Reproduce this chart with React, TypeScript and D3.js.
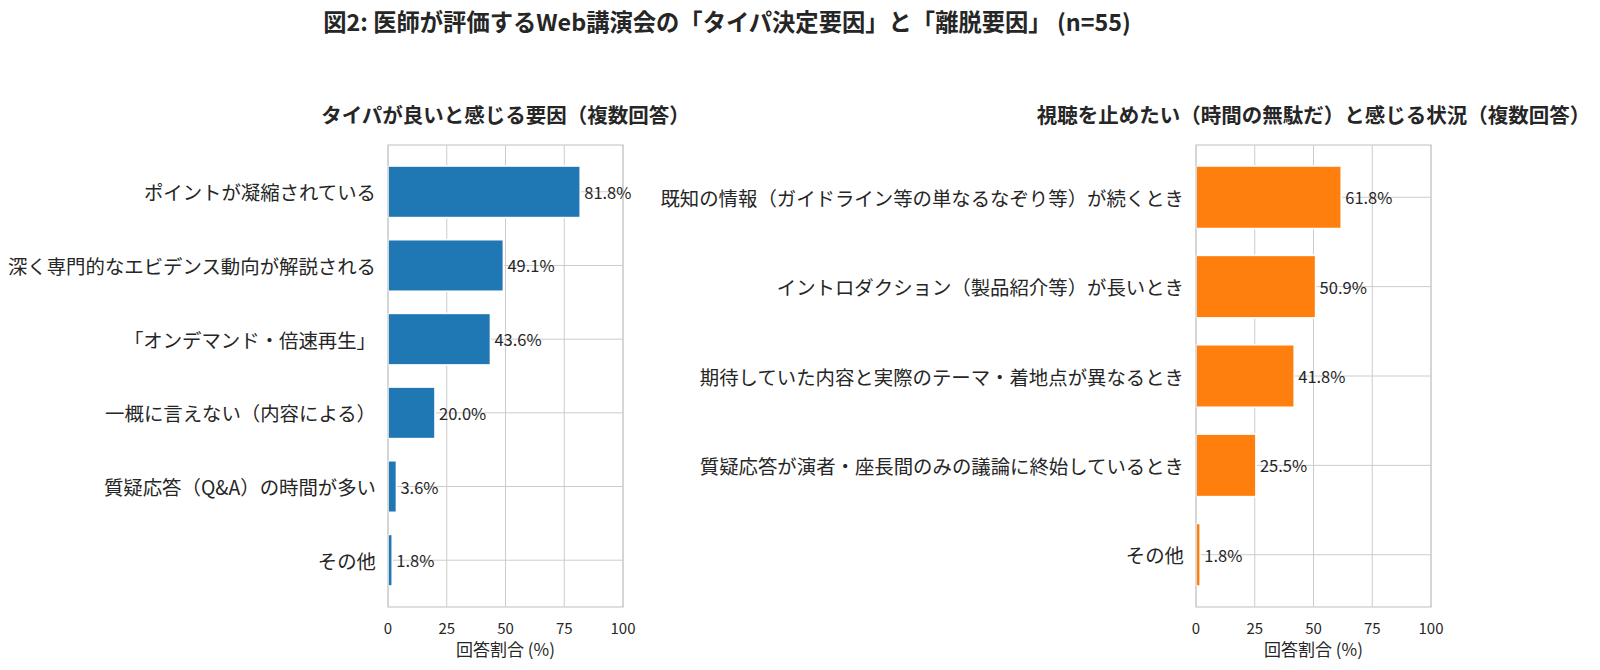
import * as d3 from 'd3';

const leftCategories = [
  'ポイントが凝縮されている',
  '深く専門的なエビデンス動向が解説される',
  '「オンデマンド・倍速再生」',
  '一概に言えない（内容による）',
  '質疑応答（Q&A）の時間が多い',
  'その他',
];
const leftValues = [81.8, 49.1, 43.6, 20.0, 3.6, 1.8];

const rightCategories = [
  '既知の情報（ガイドライン等の単なるなぞり等）が続くとき',
  'イントロダクション（製品紹介等）が長いとき',
  '期待していた内容と実際のテーマ・着地点が異なるとき',
  '質疑応答が演者・座長間のみの議論に終始しているとき',
  'その他',
];
const rightValues = [61.8, 50.9, 41.8, 25.5, 1.8];

const xTicks = [0, 25, 50, 75, 100];

const FONT = '"Noto Sans CJK JP", "Noto Sans", sans-serif';
const GRID = '#cccccc';
const TEXT = '#262626';

interface PanelProps {
  title: string;
  categories: string[];
  values: number[];
  color: string;
  left: number;
  right: number;
}

const TOP = 145;
const BOTTOM = 607;

const Panel = ({ title, categories, values, color, left, right }: PanelProps) => {
  const n = categories.length;
  const barH = 0.7;
  // matplotlib-like 5% margins around the bar extent
  const m = 0.05 * (n - 1 + barH);
  const y = d3.scaleLinear().domain([-barH / 2 - m, n - 1 + barH / 2 + m]).range([TOP, BOTTOM]);
  const x = d3.scaleLinear().domain([0, 100]).range([left, right]);

  return (
    <g>
      <text
        x={(left + right) / 2}
        y={114}
        textAnchor="middle"
        dominantBaseline="central"
        fontSize={20.5}
        fontWeight="bold"
        fill={TEXT}
      >
        {title}
      </text>

      {/* grid */}
      {xTicks.map(t => (
        <line key={'gx' + t} x1={x(t)} x2={x(t)} y1={TOP} y2={BOTTOM} stroke={GRID} strokeWidth={1} />
      ))}
      {categories.map((c, i) => (
        <line key={'gy' + i} x1={left} x2={right} y1={y(i)} y2={y(i)} stroke={GRID} strokeWidth={1} />
      ))}

      {/* bars */}
      {values.map((v, i) => (
        <rect
          key={'b' + i}
          x={x(0)}
          y={y(i - barH / 2)}
          width={x(v) - x(0)}
          height={y(i + barH / 2) - y(i - barH / 2)}
          fill={color}
          stroke="white"
          strokeWidth={1.6}
        />
      ))}

      {/* spines */}
      <rect x={left} y={TOP} width={right - left} height={BOTTOM - TOP} fill="none" stroke={GRID} strokeWidth={1.25} />

      {/* value labels */}
      {values.map((v, i) => (
        <text
          key={'v' + i}
          x={x(v) + 4}
          y={y(i)}
          dominantBaseline="central"
          fontSize={16.5}
          fill={TEXT}
        >
          {v.toFixed(1)}%
        </text>
      ))}

      {/* y tick labels */}
      {categories.map((c, i) => (
        <text
          key={'c' + i}
          x={left - 12}
          y={y(i)}
          textAnchor="end"
          dominantBaseline="central"
          fontSize={19.4}
          fill={TEXT}
        >
          {c}
        </text>
      ))}

      {/* x tick labels */}
      {xTicks.map(t => (
        <text
          key={'xt' + t}
          x={x(t)}
          y={627}
          textAnchor="middle"
          dominantBaseline="central"
          fontSize={15}
          fill={TEXT}
        >
          {t}
        </text>
      ))}
      <text
        x={(left + right) / 2}
        y={648}
        textAnchor="middle"
        dominantBaseline="central"
        fontSize={17}
        fill={TEXT}
      >
        回答割合 (%)
      </text>
    </g>
  );
};

const App = () => {
  return (
    <svg
      width={1600}
      height={670}
      style={{ position: 'absolute', left: 0, top: 0, background: 'white' }}
      fontFamily={FONT}
    >
      <rect width={1600} height={670} fill="white" />
      <text x={727} y={21} textAnchor="middle" dominantBaseline="central" fontSize={23.3} fontWeight="bold" fill={TEXT}>
        図2: 医師が評価するWeb講演会の「タイパ決定要因」と「離脱要因」 (n=55)
      </text>
      <Panel
        title="タイパが良いと感じる要因（複数回答）"
        categories={leftCategories}
        values={leftValues}
        color="#1f77b4"
        left={388}
        right={623}
      />
      <Panel
        title="視聴を止めたい（時間の無駄だ）と感じる状況（複数回答）"
        categories={rightCategories}
        values={rightValues}
        color="#ff7f0e"
        left={1196}
        right={1431}
      />
    </svg>
  );
};

export default App;
